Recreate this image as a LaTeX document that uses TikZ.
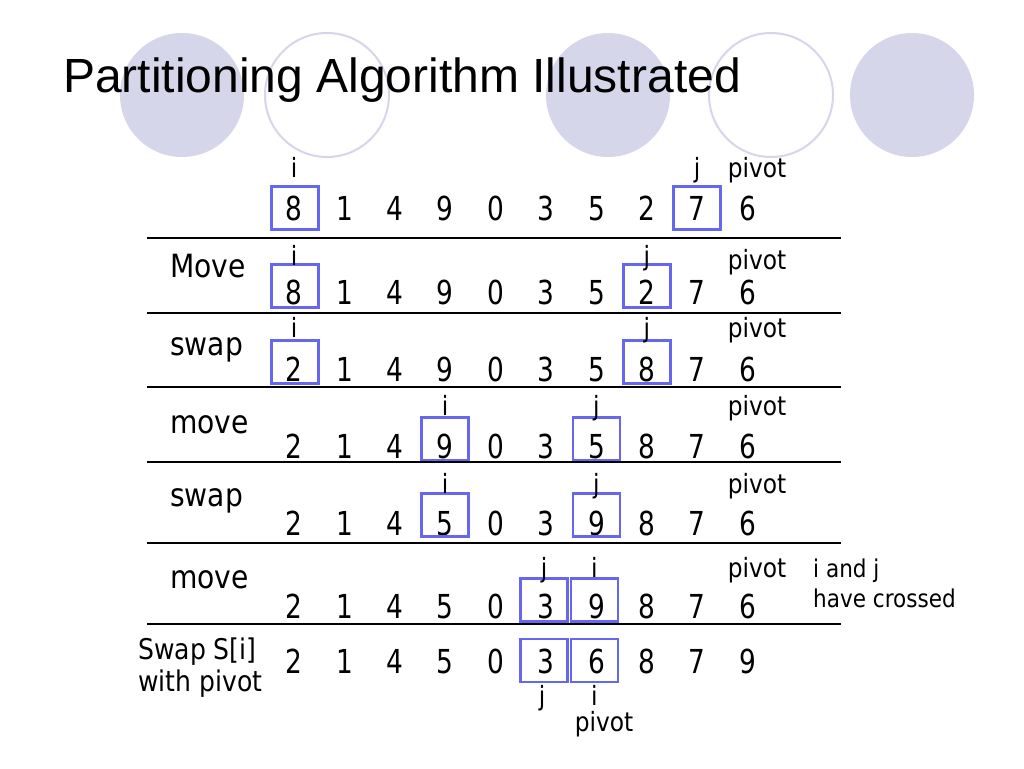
\documentclass[tikz,border=0pt]{standalone}
\usepackage{fontspec}
\setmainfont{Liberation Sans}
\newfontfamily\tah[FakeStretch=0.88]{DejaVu Sans}
\newfontfamily\tahnum[FakeStretch=0.8]{DejaVu Sans}
\definecolor{circ}{HTML}{D6D6EA}
\definecolor{boxblue}{HTML}{6666EE}
\begin{document}
\begin{tikzpicture}[x=1pt,y=-1pt,
  num/.style={font=\tahnum\fontsize{33}{38}\selectfont, inner sep=0pt, anchor=base},
  lab/.style={font=\tah\fontsize{26.5}{30}\selectfont, inner sep=0pt, anchor=base},
  rowlab/.style={font=\tah\fontsize{32}{36}\selectfont, inner sep=0pt, anchor=base west},
  small/.style={font=\tah\fontsize{24.5}{29}\selectfont, inner sep=0pt, anchor=base west},
  ptr/.style={draw=boxblue, line width=2.5pt, minimum width=47pt, minimum height=43pt, inner sep=0pt},
  sepline/.style={line width=2.7pt, black},
  fcirc/.style={fill=circ},
  ocirc/.style={draw=circ, line width=2pt}]
\useasboundingbox (0,0) rectangle (1024,768);
\fill[white] (0,0) rectangle (1024,768);
% decorative circles
\fill[fcirc] (182,95) circle[radius=62pt];
\draw[ocirc] (327,95) circle[radius=62pt];
\fill[fcirc] (608,95) circle[radius=62pt];
\draw[ocirc] (771,95) circle[radius=62pt];
\fill[fcirc] (912,95) circle[radius=62pt];
% title
\node[anchor=base west, inner sep=0pt, font=\fontsize{48}{56}\selectfont] (title) at (63,92) {Partitioning Algorithm Illustrated};
% number rows (y = baseline)
\foreach \r/\yy/\vals in {
  0/220/{8,1,4,9,0,3,5,2,7,6},
  1/304/{8,1,4,9,0,3,5,2,7,6},
  2/381/{2,1,4,9,0,3,5,8,7,6},
  3/458/{2,1,4,9,0,3,5,8,7,6},
  4/535/{2,1,4,5,0,3,9,8,7,6},
  5/618/{2,1,4,5,0,3,9,8,7,6},
  6/673/{2,1,4,5,0,3,6,8,7,9}} {
  \foreach \v [count=\k from 0] in \vals {
    \node[num] (n\r-\k) at ({294+50.4*\k}, \yy) {\v};
  }
}
% pointer boxes
\node[ptr] (b0i) at (295,208) {};
\node[ptr] (b0j) at (697.2,208) {};
\node[ptr] (b1i) at (295,286) {};
\node[ptr] (b1j) at (646.8,286) {};
\node[ptr] (b2i) at (295,362) {};
\node[ptr] (b2j) at (646.8,362) {};
\node[ptr] (b3i) at (445.2,439) {};
\node[ptr] (b3j) at (596.4,439) {};
\node[ptr] (b4i) at (445.2,515) {};
\node[ptr] (b4j) at (596.4,515) {};
\node[ptr] (b5j) at (544,600) {};
\node[ptr] (b5i) at (594.4,600) {};
\node[ptr] (b6j) at (544,660.5) {};
\node[ptr] (b6i) at (594.4,660.5) {};
% pointer labels
\node[lab] (i0) at (294,177) {i};
\node[lab] (j0) at (697.2,177) {j};
\node[lab] (p0) at (757,177) {pivot};
\node[lab] (i1) at (294,265) {i};
\node[lab] (j1) at (646.8,265) {j};
\node[lab] (p1) at (757,269) {pivot};
\node[lab] (i2) at (294,337) {i};
\node[lab] (j2) at (646.8,337) {j};
\node[lab] (p2) at (757,337) {pivot};
\node[lab] (i3) at (445.2,415) {i};
\node[lab] (j3) at (596.4,415) {j};
\node[lab] (p3) at (757,415) {pivot};
\node[lab] (i4) at (445.2,493) {i};
\node[lab] (j4) at (596.4,493) {j};
\node[lab] (p4) at (757,493) {pivot};
\node[lab] (j5) at (544,577) {j};
\node[lab] (i5) at (594.4,577) {i};
\node[lab] (p5) at (757,577) {pivot};
\node[lab] (j6) at (542,705) {j};
\node[lab] (i6) at (594.4,705) {i};
\node[lab] (p6) at (604,731) {pivot};
% row labels
\node[rowlab] (l1) at (170,277) {Move};
\node[rowlab] (l2) at (170,355) {swap};
\node[rowlab] (l3) at (170,433) {move};
\node[rowlab] (l4) at (170,506) {swap};
\node[rowlab] (l5) at (170,588) {move};
\node[font=\tah\fontsize{28.5}{32}\selectfont, inner sep=0pt, anchor=base west] (l6a) at (138,659) {Swap S[i]};
\node[font=\tah\fontsize{28.5}{32}\selectfont, inner sep=0pt, anchor=base west] (l6b) at (138,691) {with pivot};
\node[small] (c1) at (813,577) {i and j};
\node[small] (c2) at (813,607) {have crossed};
% separator lines
\foreach \s/\yy in {1/238,2/313,3/387,4/462,5/543,6/624} {
  \coordinate (sL\s) at (147,\yy);
  \coordinate (sR\s) at (841,\yy);
  \draw[sepline] (sL\s) -- (sR\s);
}
\end{tikzpicture}
\end{document}
